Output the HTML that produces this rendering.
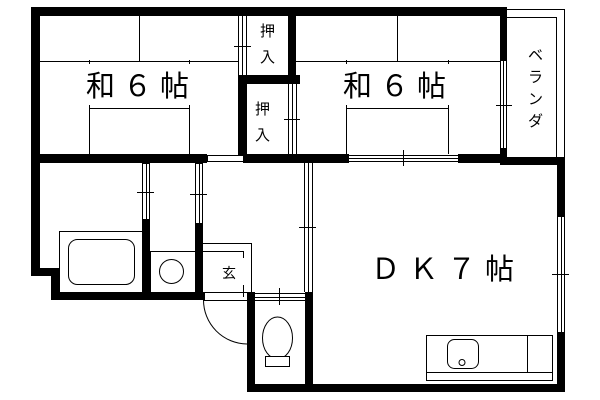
<!DOCTYPE html>
<html><head><meta charset="utf-8"><style>
html,body{margin:0;padding:0;background:#fff;width:600px;height:400px;overflow:hidden}
svg{display:block}
text{font-family:"Liberation Sans","Noto Sans CJK JP",sans-serif;fill:#000}
</style></head><body>
<svg width="600" height="400" viewBox="0 0 600 400" xmlns="http://www.w3.org/2000/svg">
<g fill="#000" stroke="none">
<!-- top wall -->
<rect x="31" y="7" width="476" height="9"/>
<!-- left wall -->
<rect x="31" y="7" width="9" height="269"/>
<rect x="31" y="268" width="28" height="8"/>
<rect x="51" y="268" width="8" height="32"/>
<rect x="51" y="292" width="154" height="8"/>
<!-- left room bottom wall -->
<rect x="31" y="154" width="176" height="9"/>
<rect x="243" y="154" width="106" height="9"/>
<rect x="458" y="154" width="49" height="9"/>
<rect x="503" y="157" width="62" height="8"/>
<!-- closets -->
<rect x="288" y="7" width="8" height="76"/>
<rect x="238" y="75" width="62" height="9"/>
<rect x="238" y="75" width="9" height="84"/>
<!-- right wall of top right room -->
<rect x="500" y="7" width="7" height="54"/>
<rect x="500" y="148" width="7" height="17"/>
<!-- DK right wall -->
<rect x="557" y="157" width="8" height="60"/>
<rect x="557" y="332" width="8" height="60"/>
<!-- bottom wall -->
<rect x="247" y="384" width="318" height="8"/>
<!-- DK left wall -->
<rect x="305" y="292" width="8" height="100"/>
<!-- toilet left wall -->
<rect x="247" y="292" width="8" height="100"/>
<!-- bath walls -->
<rect x="142" y="219" width="8" height="81"/>
<rect x="195" y="223" width="8" height="77"/>
<rect x="142" y="154" width="8" height="10"/>
<rect x="195" y="154" width="8" height="10"/>
</g>
<g fill="none" stroke="#000" stroke-width="1">
<!-- window between left room and corridor -->
<rect x="207.5" y="155.5" width="36" height="6" fill="#fff"/>
<!-- left room tatami -->
<line x1="40" y1="61.5" x2="238" y2="61.5"/>
<line x1="139.5" y1="16" x2="139.5" y2="61"/>
<line x1="89.5" y1="60" x2="89.5" y2="64"/>
<line x1="189.5" y1="60" x2="189.5" y2="64"/>
<polyline points="89.5,105 89.5,108.5 189.5,108.5 189.5,105"/>
<line x1="89.5" y1="108" x2="89.5" y2="154"/>
<line x1="189.5" y1="108" x2="189.5" y2="154"/>
<!-- closet1 window -->
<line x1="238.5" y1="16" x2="238.5" y2="75"/>
<line x1="242.5" y1="16" x2="242.5" y2="75"/>
<line x1="246.5" y1="16" x2="246.5" y2="75"/>
<line x1="234" y1="46.5" x2="251" y2="46.5"/>
<!-- closet2 window -->
<line x1="288.5" y1="84" x2="288.5" y2="154"/>
<line x1="292.5" y1="84" x2="292.5" y2="154"/>
<line x1="296.5" y1="84" x2="296.5" y2="154"/>
<line x1="284" y1="119.5" x2="300" y2="119.5"/>
<!-- right room tatami -->
<line x1="296" y1="61.5" x2="500" y2="61.5"/>
<line x1="397.5" y1="16" x2="397.5" y2="61"/>
<line x1="346.5" y1="60" x2="346.5" y2="64"/>
<line x1="448.5" y1="60" x2="448.5" y2="64"/>
<polyline points="346.5,105 346.5,108.5 448.5,108.5 448.5,105"/>
<line x1="346.5" y1="108" x2="346.5" y2="154"/>
<line x1="448.5" y1="108" x2="448.5" y2="154"/>
<!-- right room window right -->
<line x1="500.5" y1="61" x2="500.5" y2="148"/>
<line x1="503.5" y1="61" x2="503.5" y2="148"/>
<line x1="506.5" y1="61" x2="506.5" y2="148"/>
<line x1="496" y1="105.5" x2="512" y2="105.5"/>
<!-- right room bottom window -->
<line x1="349" y1="155.5" x2="458" y2="155.5"/>
<line x1="349" y1="158.5" x2="458" y2="158.5"/>
<line x1="349" y1="161.5" x2="458" y2="161.5"/>
<line x1="403.5" y1="150" x2="403.5" y2="166"/>
<!-- veranda -->
<polyline points="507,9.5 564.5,9.5 564.5,157"/>
<polyline points="507,17.5 556.5,17.5 556.5,157"/>
<!-- DK right window -->
<line x1="557.5" y1="217" x2="557.5" y2="332"/>
<line x1="561.5" y1="217" x2="561.5" y2="332"/>
<line x1="564.5" y1="217" x2="564.5" y2="332"/>
<line x1="552" y1="274.5" x2="569" y2="274.5"/>
<!-- DK left window -->
<line x1="304.5" y1="163" x2="304.5" y2="292"/>
<line x1="308.5" y1="163" x2="308.5" y2="292"/>
<line x1="312.5" y1="163" x2="312.5" y2="292"/>
<line x1="299" y1="227.5" x2="316" y2="227.5"/>
<!-- bath windows -->
<line x1="142.5" y1="163" x2="142.5" y2="219"/>
<line x1="146.5" y1="163" x2="146.5" y2="219"/>
<line x1="149.5" y1="163" x2="149.5" y2="219"/>
<line x1="137" y1="192.5" x2="154" y2="192.5"/>
<line x1="195.5" y1="163" x2="195.5" y2="223"/>
<line x1="199.5" y1="163" x2="199.5" y2="223"/>
<line x1="202.5" y1="163" x2="202.5" y2="223"/>
<line x1="190" y1="194.5" x2="207" y2="194.5"/>
<!-- bathtub -->
<rect x="59.5" y="231.5" width="83" height="61"/>
<rect x="68.5" y="239.5" width="66" height="45" rx="9"/>
<!-- washroom -->
<rect x="150.5" y="251.5" width="45" height="41"/>
<circle cx="171.5" cy="271.5" r="12"/>
<!-- genkan -->
<polyline points="203,243.5 251.5,243.5 251.5,292"/>
<line x1="203" y1="251.5" x2="243.5" y2="251.5"/>
<line x1="243.5" y1="251" x2="243.5" y2="258"/>
<line x1="243.5" y1="285" x2="243.5" y2="297"/>
<line x1="203" y1="292.5" x2="247" y2="292.5"/>
<line x1="203" y1="300.5" x2="247" y2="300.5"/>
<path d="M203.5,300 A44,44 0 0 0 247,344"/>
<!-- toilet top window -->
<line x1="255" y1="293.5" x2="305" y2="293.5"/>
<line x1="255" y1="297.5" x2="305" y2="297.5"/>
<line x1="255" y1="300.5" x2="305" y2="300.5"/>
<line x1="279.5" y1="288" x2="279.5" y2="305"/>
<ellipse cx="277.5" cy="338" rx="15" ry="21"/>
<rect x="265.5" y="356.5" width="24" height="10" fill="#fff"/>
<!-- kitchen counter -->
<rect x="426.5" y="335.5" width="126" height="45"/>
<line x1="426" y1="372.5" x2="552" y2="372.5"/>
<line x1="527.5" y1="335" x2="527.5" y2="372"/>
<rect x="447.5" y="339.5" width="31" height="29" rx="7"/>
<circle cx="462" cy="362.5" r="3"/>
</g>
<g font-size="29">
<text x="86" y="96" letter-spacing="8">和６帖</text>
<text x="343" y="96" letter-spacing="8">和６帖</text>
<text x="371" y="279" letter-spacing="9">ＤＫ７帖</text>
</g>
<g font-size="15">
<text x="260" y="36">押</text>
<text x="260" y="62">入</text>
<text x="255" y="114">押</text>
<text x="255" y="140">入</text>
<text x="222" y="278" font-size="14">玄</text>
<text x="528" y="60">ベ</text>
<text x="528" y="82">ラ</text>
<text x="528" y="104">ン</text>
<text x="528" y="126">ダ</text>
</g>
</svg>
</body></html>
